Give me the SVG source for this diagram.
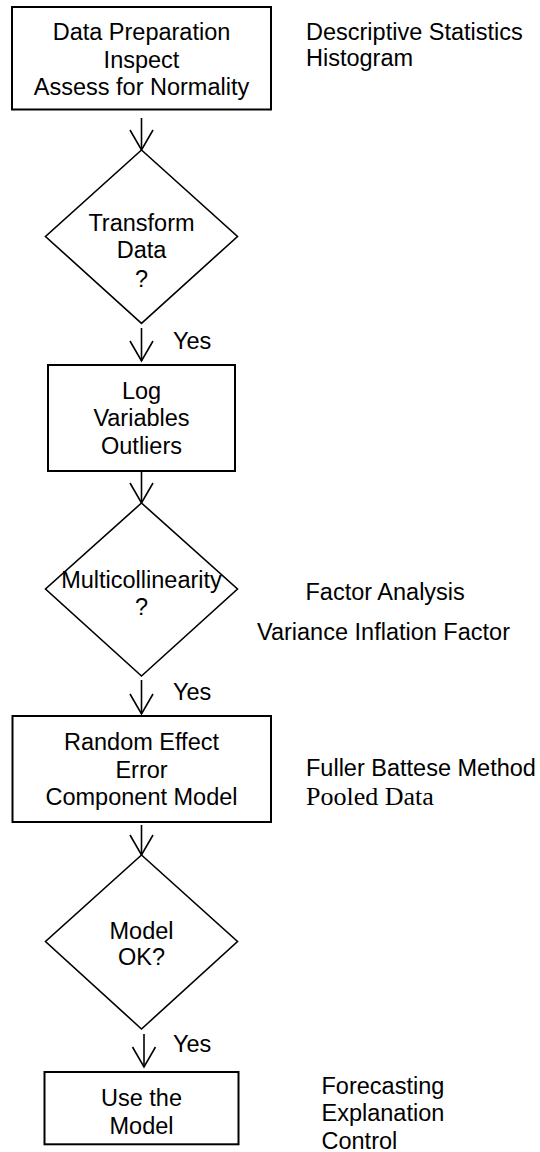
<svg xmlns="http://www.w3.org/2000/svg" width="540" height="1152" viewBox="0 0 540 1152">
  <style>
    .box { fill: #ffffff; stroke: #000000; stroke-width: 2; }
    .dia { fill: #ffffff; stroke: #000000; stroke-width: 1.6; }
    .edge { fill: none; stroke: #000000; stroke-width: 1.6; }
    text { font-family: "Liberation Sans", Arial, sans-serif; font-size: 23.5px; fill: #000000; }
    .c { text-anchor: middle; }
    .serif { font-family: "Liberation Serif", "Times New Roman", serif; font-size: 26px; }
  </style>
  <defs>
    <!-- open V arrowhead, tip at the end of the line -->
    <marker id="vhead" markerUnits="userSpaceOnUse" markerWidth="30" markerHeight="30"
            refX="0" refY="0" viewBox="-25 -15 30 30" orient="auto" overflow="visible">
      <path d="M-20,-11.5 L0,0 L-20,11.5" fill="none" stroke="#000000" stroke-width="1.6"/>
    </marker>
  </defs>

  <rect width="540" height="1152" fill="#ffffff"/>

  <!-- connectors -->
  <g id="connectors">
    <line class="edge" x1="141.5" y1="118" x2="141.5" y2="150" marker-end="url(#vhead)"/>
    <line class="edge" x1="141.5" y1="328" x2="141.5" y2="361" marker-end="url(#vhead)"/>
    <text x="173" y="348.5">Yes</text>
    <line class="edge" x1="141.5" y1="471" x2="141.5" y2="503" marker-end="url(#vhead)"/>
    <line class="edge" x1="141.5" y1="680" x2="141.5" y2="714" marker-end="url(#vhead)"/>
    <text x="173" y="700">Yes</text>
    <line class="edge" x1="141.5" y1="825" x2="141.5" y2="855" marker-end="url(#vhead)"/>
    <line class="edge" x1="144" y1="1034" x2="144" y2="1067" marker-end="url(#vhead)"/>
    <text x="173" y="1052">Yes</text>
  </g>

  <!-- process steps and decisions -->
  <g id="prepare">
    <rect class="box" x="12" y="7" width="259" height="102.5"/>
    <text class="c" x="141.5" y="40">Data Preparation</text>
    <text class="c" x="141.5" y="68">Inspect</text>
    <text class="c" x="141.5" y="95">Assess for Normality</text>
  </g>

  <g id="transform">
    <polygon class="dia" points="141.5,150 237.5,236.5 141.5,323.3 45.5,236.5"/>
    <text class="c" x="141.5" y="231">Transform</text>
    <text class="c" x="141.5" y="258">Data</text>
    <text class="c" x="141.5" y="287">?</text>
  </g>

  <g id="log-vars">
    <rect class="box" x="48" y="365" width="187" height="106"/>
    <text class="c" x="141.5" y="398.5">Log</text>
    <text class="c" x="141.5" y="426">Variables</text>
    <text class="c" x="141.5" y="454">Outliers</text>
  </g>

  <g id="multicollinearity">
    <polygon class="dia" points="141.5,503 237.5,589 141.5,676 45.5,589"/>
    <text class="c" x="141.5" y="587.5">Multicollinearity</text>
    <text class="c" x="141.5" y="615">?</text>
  </g>

  <g id="random-effect">
    <rect class="box" x="12.5" y="716" width="258.5" height="106"/>
    <text class="c" x="141.5" y="749.5">Random Effect</text>
    <text class="c" x="141.5" y="777.5">Error</text>
    <text class="c" x="141.5" y="804.5">Component Model</text>
  </g>

  <g id="model-ok">
    <polygon class="dia" points="141.5,855 237.5,941.5 141.5,1029 45.5,941.5"/>
    <text class="c" x="141.5" y="938.5">Model</text>
    <text class="c" x="141.5" y="965">OK?</text>
  </g>

  <g id="use-model">
    <rect class="box" x="44.5" y="1072" width="194" height="72.3"/>
    <text class="c" x="141.5" y="1106">Use the</text>
    <text class="c" x="141.5" y="1133.5">Model</text>
  </g>

  <!-- side notes -->
  <g id="note-descriptive">
    <text x="306" y="39.5">Descriptive Statistics</text>
    <text x="306" y="66">Histogram</text>
  </g>

  <g id="note-factor">
    <text x="305.5" y="599.5">Factor Analysis</text>
    <text x="257" y="639.5">Variance Inflation Factor</text>
  </g>

  <g id="note-fuller">
    <text x="306" y="776">Fuller Battese Method</text>
    <text class="serif" x="306" y="805">Pooled Data</text>
  </g>

  <g id="note-uses">
    <text x="321.5" y="1093.5">Forecasting</text>
    <text x="321.5" y="1121">Explanation</text>
    <text x="321.5" y="1148.5">Control</text>
  </g>
</svg>
